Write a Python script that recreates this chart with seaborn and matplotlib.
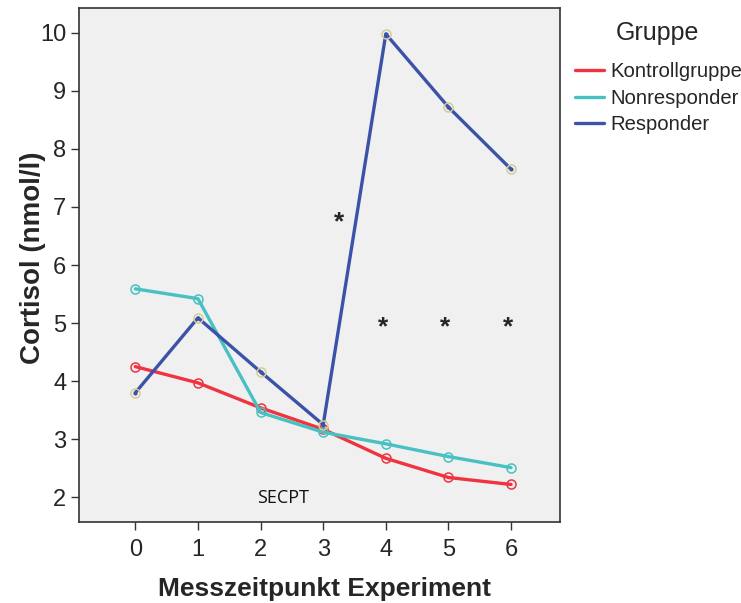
import matplotlib
matplotlib.use("Agg")
import matplotlib.pyplot as plt
from matplotlib.lines import Line2D
import seaborn as sns
import pandas as pd

timepoints = [0, 1, 2, 3, 4, 5, 6]
groups = ["Kontrollgruppe", "Nonresponder", "Responder"]
kontroll = [4.25, 3.97, 3.54, 3.17, 2.67, 2.34, 2.22]
nonresp = [5.59, 5.42, 3.46, 3.12, 2.92, 2.70, 2.51]
resp = [3.80, 5.09, 4.16, 3.25, 9.98, 8.72, 7.65]
star_x = [3.25, 3.95, 4.95, 5.95]
star_y = [6.84, 5.02, 5.02, 5.02]
yticks = [2, 3, 4, 5, 6, 7, 8, 9, 10]

colors = {"Kontrollgruppe": "#ef3340", "Nonresponder": "#47c1c1", "Responder": "#3c52a8"}
marker_edge = {"Kontrollgruppe": "#ef3340", "Nonresponder": "#47c1c1", "Responder": "#d4cc96"}

df = pd.DataFrame({
    "t": timepoints * 3,
    "val": kontroll + nonresp + resp,
    "grp": [g for g in groups for _ in timepoints],
})

sns.set_style("white")
plt.rcParams["font.family"] = ["Liberation Sans", "DejaVu Sans"]

fig = plt.figure(figsize=(7.41, 6.03), dpi=100)
ax = fig.add_axes([0.1066, 0.134, 0.649, 0.853])
ax.set_facecolor("#f0f0f0")

for g in groups:
    sub = df[df["grp"] == g]
    sns.lineplot(data=sub, x="t", y="val", ax=ax, color=colors[g], lw=2.4,
                 marker="o", markersize=6.5, markerfacecolor="none",
                 markeredgecolor=marker_edge[g], markeredgewidth=1.1,
                 legend=False)
    if g == "Responder":
        ax.plot(sub["t"], sub["val"], ls="none", marker="o", ms=2, color=colors[g])

for sx, sy in zip(star_x, star_y):
    ax.text(sx, sy - 0.1, "*", ha="center", va="center", fontsize=19, fontweight="bold")
ax.text(2.36, 1.98, "SECPT", ha="center", va="center", fontsize=13,
        family=["Open Sans", "DejaVu Sans"], color="#111111")

ax.set_xlim(-0.9, 6.78)
ax.set_ylim(1.57, 10.43)
ax.set_xticks(timepoints)
ax.set_yticks(yticks)
ax.tick_params(axis="both", labelsize=17, length=6, width=1, color="#333333",
               direction="out", bottom=True, left=True)
ax.tick_params(axis="x", pad=6)
ax.tick_params(axis="y", pad=3)
for s in ax.spines.values():
    s.set_color("#333333")
    s.set_linewidth(1.2)
ax.set_xlabel("Messzeitpunkt Experiment", fontsize=19, fontweight="bold", va="top")
ax.set_ylabel("Cortisol (nmol/l)", fontsize=20, fontweight="bold")
ax.xaxis.set_label_coords(0.51, -0.107)
ax.yaxis.set_label_coords(-0.068, 0.515)

fig.text(657 / 741, 1 - 33 / 603, "Gruppe", ha="center", va="center", fontsize=18)
handles = [Line2D([0], [0], color=colors[g], lw=2.4) for g in groups]
leg = fig.legend(handles, groups, loc="upper left", bbox_to_anchor=(0.776, 0.897),
                 frameon=False, fontsize=14.6, borderpad=0, borderaxespad=0,
                 handlelength=1.45, handletextpad=0.3, labelspacing=0.37)

fig.savefig("out.png", dpi=100)
